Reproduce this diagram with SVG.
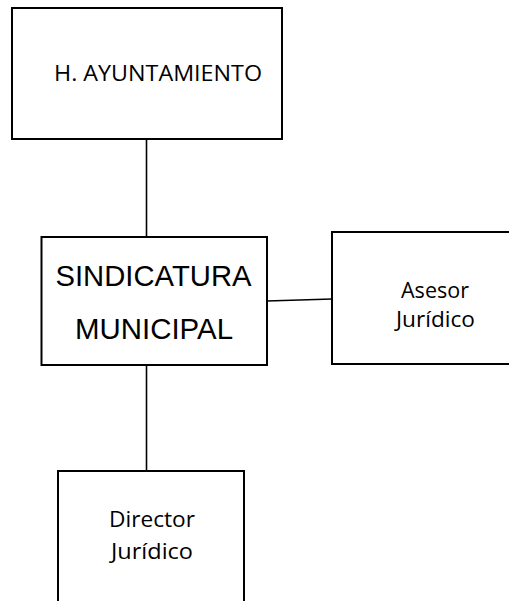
<svg xmlns="http://www.w3.org/2000/svg" width="509" height="601" viewBox="0 0 509 601">
<style>
.box{fill:#fff;stroke:#000;stroke-width:2}
.con{stroke:#000;stroke-width:1.6;fill:none}
.cal{font-family:"Open Sans","Noto Sans",sans-serif;font-size:22px;fill:#000}
.ari{font-family:"Liberation Sans",Arial,sans-serif;font-size:29px;fill:#000}
</style>
<rect width="509" height="601" fill="#fff"/>
<g id="connectors">
<line class="con" x1="146.5" y1="139" x2="146.5" y2="237"/>
<line class="con" x1="267" y1="301" x2="332" y2="299"/>
<line class="con" x1="146.5" y1="365" x2="146.5" y2="471"/>
</g>
<g id="ayuntamiento">
<rect class="box" x="12" y="8" width="270" height="131"/>
<text class="cal" x="54" y="81" textLength="208" lengthAdjust="spacingAndGlyphs">H. AYUNTAMIENTO</text>
</g>
<g id="sindicatura">
<rect class="box" x="41.5" y="237" width="225.5" height="128"/>
<text class="ari" x="55.5" y="286" textLength="196" lengthAdjust="spacingAndGlyphs">SINDICATURA</text>
<text class="ari" x="75" y="339" textLength="158" lengthAdjust="spacingAndGlyphs">MUNICIPAL</text>
</g>
<g id="asesor">
<rect class="box" x="332" y="232" width="200" height="132"/>
<text class="cal" x="401" y="298" textLength="68" lengthAdjust="spacingAndGlyphs">Asesor</text>
<text class="cal" x="396" y="327" textLength="79" lengthAdjust="spacingAndGlyphs">Jurídico</text>
</g>
<g id="director">
<rect class="box" x="58" y="471" width="186" height="150"/>
<text class="cal" x="109" y="527" textLength="86" lengthAdjust="spacingAndGlyphs">Director</text>
<text class="cal" x="111" y="559" textLength="82" lengthAdjust="spacingAndGlyphs">Jurídico</text>
</g>
</svg>
